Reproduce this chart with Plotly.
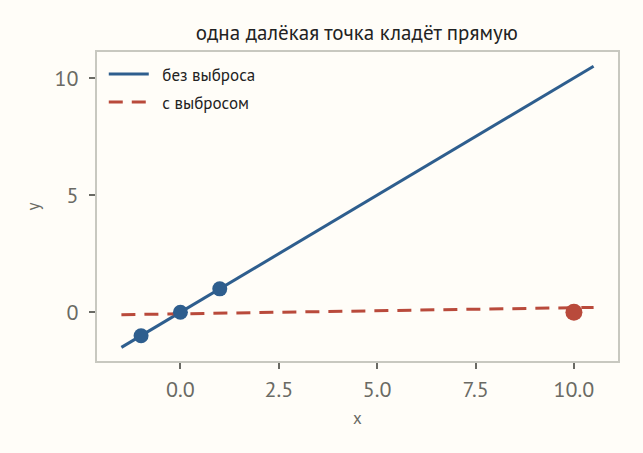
import plotly.graph_objects as go

# data
clean_x = [-1, 0, 1]
clean_y = [-1, 0, 1]
outlier_x = [10]
outlier_y = [0]
fit_clean_x = [-1.5, 10.5]
fit_clean_y = [-1.5, 10.5]
fit_out_x = [-1.5, 10.5]
fit_out_y = [-0.104, 0.208]
x_ticks = [0, 2.5, 5, 7.5, 10]
x_tick_labels = ["0.0", "2.5", "5.0", "7.5", "10.0"]
y_ticks = [0, 5, 10]
legend_names = ["без выброса", "с выбросом"]

BLUE = "#2e5e8e"
RED = "#b94a3b"
GREY = "#6a6a64"
FONT = "PT Sans, Roboto, Noto Sans, sans-serif"

fig = go.Figure()
fig.add_trace(go.Scatter(x=fit_clean_x, y=fit_clean_y, mode="lines", legendgroup="a",
                         line=dict(color=BLUE, width=3), name="\u2002" + legend_names[0]))
fig.add_trace(go.Scatter(x=fit_out_x, y=fit_out_y, mode="lines", legendgroup="b",
                         line=dict(color=RED, width=3, dash="14px,9px"),
                         name="\u2002" + legend_names[1]))
fig.add_trace(go.Scatter(x=clean_x, y=clean_y, mode="markers",
                         marker=dict(color=BLUE, size=15), showlegend=False))
fig.add_trace(go.Scatter(x=outlier_x, y=outlier_y, mode="markers",
                         marker=dict(color=RED, size=17), showlegend=False))

axis_common = dict(showgrid=False, zeroline=False, showline=True, mirror=True,
                   linecolor="#c8c8c0", linewidth=2, ticks="outside", ticklen=6,
                   tickwidth=2, tickcolor=GREY,
                   tickfont=dict(size=22, color=GREY, family=FONT))
fig.update_layout(
    width=643, height=453,
    margin=dict(l=97, r=25, t=52, b=92),
    paper_bgcolor="#fffdf8", plot_bgcolor="#fffdf8",
    font=dict(family=FONT, color="#222222"),
    title=dict(text="одна далёкая точка кладёт прямую", x=0.555, xanchor="center",
               y=0.944, yanchor="top", font=dict(size=21, color="#222222", family=FONT)),
    xaxis=dict(range=[-2.12, 11.12], tickvals=x_ticks, ticktext=x_tick_labels,
               ticklabelstandoff=2,
               title=dict(text="x", font=dict(size=17, color=GREY, family=FONT), standoff=10),
               **axis_common),
    yaxis=dict(range=[-2.08, 11.11], tickvals=y_ticks, ticklabelstandoff=6,
               title=dict(text="y", font=dict(size=17, color=GREY, family=FONT), standoff=11),
               **axis_common),
    legend=dict(x=0.013, y=0.986, xanchor="left", yanchor="top", bgcolor="rgba(0,0,0,0)",
                tracegroupgap=3, itemwidth=40,
                font=dict(size=17, color="#222222", family=FONT)),
)
fig.write_html("out.html")
